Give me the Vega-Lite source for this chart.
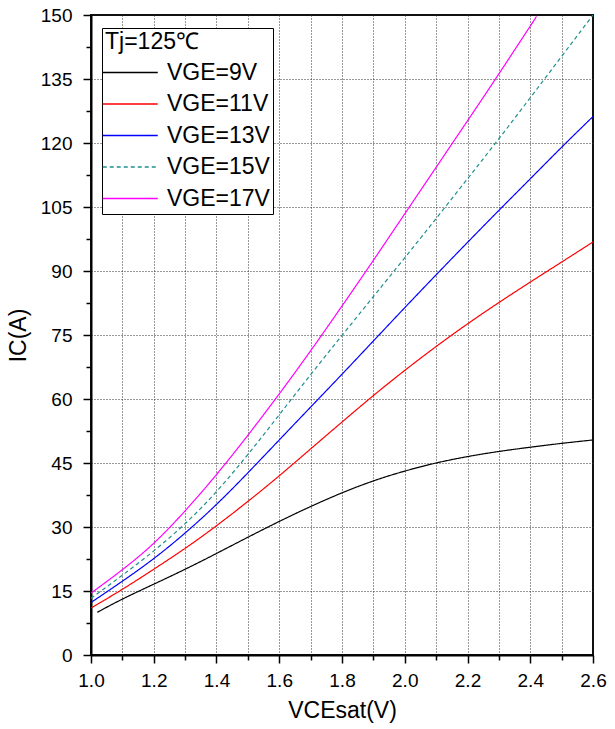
{
  "$schema": "https://vega.github.io/schema/vega-lite/v6.json",
  "width": 502,
  "height": 640,
  "autosize": {"type": "none"},
  "padding": {"left": 91, "top": 15, "right": 22, "bottom": 74},
  "background": "white",
  "config": {
    "font": "Liberation Sans",
    "view": {"stroke": "#111", "strokeWidth": 2},
    "legend": {
      "orient": "none",
      "legendX": 11,
      "legendY": 13,
      "strokeColor": "#000",
      "strokeWidth": 1,
      "fillColor": "white",
      "padding": 3,
      "titleFont": "Liberation Sans",
      "titleFontSize": 23,
      "titleFontWeight": "normal",
      "titleColor": "#000",
      "titlePadding": 7,
      "labelFont": "Liberation Sans",
      "labelFontSize": 23,
      "labelColor": "#000",
      "labelOffset": 39,
      "rowPadding": 7.5,
      "symbolType": "M-2.5,0H7.5",
      "symbolSize": 121,
      "symbolStrokeWidth": 1.3
    }
  },
  "data": {
    "values": [
      {"x": 1.02, "y": 10.0, "series": "VGE=9V"},
      {"x": 1.1, "y": 13.1, "series": "VGE=9V"},
      {"x": 1.2, "y": 16.6, "series": "VGE=9V"},
      {"x": 1.3, "y": 20.1, "series": "VGE=9V"},
      {"x": 1.4, "y": 23.8, "series": "VGE=9V"},
      {"x": 1.5, "y": 27.6, "series": "VGE=9V"},
      {"x": 1.6, "y": 31.3, "series": "VGE=9V"},
      {"x": 1.7, "y": 34.8, "series": "VGE=9V"},
      {"x": 1.8, "y": 38.0, "series": "VGE=9V"},
      {"x": 1.9, "y": 40.8, "series": "VGE=9V"},
      {"x": 2.0, "y": 43.1, "series": "VGE=9V"},
      {"x": 2.1, "y": 45.0, "series": "VGE=9V"},
      {"x": 2.2, "y": 46.5, "series": "VGE=9V"},
      {"x": 2.3, "y": 47.7, "series": "VGE=9V"},
      {"x": 2.4, "y": 48.7, "series": "VGE=9V"},
      {"x": 2.5, "y": 49.6, "series": "VGE=9V"},
      {"x": 2.6, "y": 50.4, "series": "VGE=9V"},

      {"x": 1.0, "y": 11.0, "series": "VGE=11V"},
      {"x": 1.1, "y": 15.4, "series": "VGE=11V"},
      {"x": 1.2, "y": 20.1, "series": "VGE=11V"},
      {"x": 1.3, "y": 25.0, "series": "VGE=11V"},
      {"x": 1.4, "y": 30.3, "series": "VGE=11V"},
      {"x": 1.5, "y": 36.0, "series": "VGE=11V"},
      {"x": 1.6, "y": 42.0, "series": "VGE=11V"},
      {"x": 1.7, "y": 48.3, "series": "VGE=11V"},
      {"x": 1.8, "y": 54.6, "series": "VGE=11V"},
      {"x": 1.9, "y": 60.8, "series": "VGE=11V"},
      {"x": 2.0, "y": 66.7, "series": "VGE=11V"},
      {"x": 2.1, "y": 72.3, "series": "VGE=11V"},
      {"x": 2.2, "y": 77.6, "series": "VGE=11V"},
      {"x": 2.3, "y": 82.6, "series": "VGE=11V"},
      {"x": 2.4, "y": 87.4, "series": "VGE=11V"},
      {"x": 2.5, "y": 92.1, "series": "VGE=11V"},
      {"x": 2.6, "y": 96.8, "series": "VGE=11V"},

      {"x": 1.0, "y": 12.3, "series": "VGE=13V"},
      {"x": 1.1, "y": 17.3, "series": "VGE=13V"},
      {"x": 1.2, "y": 22.6, "series": "VGE=13V"},
      {"x": 1.3, "y": 28.6, "series": "VGE=13V"},
      {"x": 1.4, "y": 35.3, "series": "VGE=13V"},
      {"x": 1.5, "y": 42.7, "series": "VGE=13V"},
      {"x": 1.6, "y": 50.4, "series": "VGE=13V"},
      {"x": 1.7, "y": 58.1, "series": "VGE=13V"},
      {"x": 1.8, "y": 65.8, "series": "VGE=13V"},
      {"x": 1.9, "y": 73.6, "series": "VGE=13V"},
      {"x": 2.0, "y": 81.4, "series": "VGE=13V"},
      {"x": 2.1, "y": 89.1, "series": "VGE=13V"},
      {"x": 2.2, "y": 96.7, "series": "VGE=13V"},
      {"x": 2.3, "y": 104.2, "series": "VGE=13V"},
      {"x": 2.4, "y": 111.6, "series": "VGE=13V"},
      {"x": 2.5, "y": 119.0, "series": "VGE=13V"},
      {"x": 2.6, "y": 126.2, "series": "VGE=13V"},

      {"x": 1.0, "y": 13.3, "series": "VGE=15V"},
      {"x": 1.1, "y": 18.7, "series": "VGE=15V"},
      {"x": 1.2, "y": 24.4, "series": "VGE=15V"},
      {"x": 1.3, "y": 30.8, "series": "VGE=15V"},
      {"x": 1.4, "y": 38.3, "series": "VGE=15V"},
      {"x": 1.5, "y": 47.0, "series": "VGE=15V"},
      {"x": 1.6, "y": 56.3, "series": "VGE=15V"},
      {"x": 1.7, "y": 65.7, "series": "VGE=15V"},
      {"x": 1.8, "y": 74.9, "series": "VGE=15V"},
      {"x": 1.9, "y": 84.0, "series": "VGE=15V"},
      {"x": 2.0, "y": 93.1, "series": "VGE=15V"},
      {"x": 2.1, "y": 102.3, "series": "VGE=15V"},
      {"x": 2.2, "y": 111.6, "series": "VGE=15V"},
      {"x": 2.3, "y": 121.0, "series": "VGE=15V"},
      {"x": 2.4, "y": 130.6, "series": "VGE=15V"},
      {"x": 2.5, "y": 140.3, "series": "VGE=15V"},
      {"x": 2.6, "y": 150.0, "series": "VGE=15V"},

      {"x": 1.0, "y": 14.5, "series": "VGE=17V"},
      {"x": 1.1, "y": 20.0, "series": "VGE=17V"},
      {"x": 1.2, "y": 26.2, "series": "VGE=17V"},
      {"x": 1.3, "y": 33.8, "series": "VGE=17V"},
      {"x": 1.4, "y": 42.3, "series": "VGE=17V"},
      {"x": 1.5, "y": 51.5, "series": "VGE=17V"},
      {"x": 1.6, "y": 61.2, "series": "VGE=17V"},
      {"x": 1.7, "y": 71.3, "series": "VGE=17V"},
      {"x": 1.8, "y": 81.8, "series": "VGE=17V"},
      {"x": 1.9, "y": 92.5, "series": "VGE=17V"},
      {"x": 2.0, "y": 103.4, "series": "VGE=17V"},
      {"x": 2.1, "y": 114.3, "series": "VGE=17V"},
      {"x": 2.2, "y": 125.2, "series": "VGE=17V"},
      {"x": 2.3, "y": 136.2, "series": "VGE=17V"},
      {"x": 2.4, "y": 147.4, "series": "VGE=17V"},
      {"x": 2.42, "y": 149.7, "series": "VGE=17V"}
    ]
  },
  "mark": {"type": "line", "strokeWidth": 1.2, "interpolate": "natural", "clip": true},
  "encoding": {
    "x": {
      "field": "x",
      "type": "quantitative",
      "scale": {"domain": [1.0, 2.6], "nice": false, "zero": false},
      "axis": {
        "title": "VCEsat(V)",
        "titleFontSize": 23,
        "titleFontWeight": "normal",
        "titleColor": "#000",
        "titlePadding": 9,
        "values": [1.0, 1.1, 1.2, 1.3, 1.4, 1.5, 1.6, 1.7, 1.8, 1.9, 2.0, 2.1, 2.2, 2.3, 2.4, 2.5, 2.6],
        "labelExpr": "round(datum.value*10) % 2 == 0 ? format(datum.value, '.1f') : ''",
        "labelFontSize": 19,
        "labelColor": "#000",
        "labelPadding": 8,
        "labelFlush": false,
        "labelOverlap": false,
        "domainColor": "#000",
        "domainWidth": 2,
        "tickColor": "#000",
        "tickWidth": 1.5,
        "tickSize": {"condition": {"test": "round(datum.value*10) % 2 == 0", "value": 8}, "value": 5},
        "grid": true,
        "gridColor": "#333",
        "gridDash": [1, 2],
        "gridWidth": 1,
        "gridOpacity": {"condition": {"test": "datum.value < 1.05 || datum.value > 2.55", "value": 0}, "value": 1}
      }
    },
    "y": {
      "field": "y",
      "type": "quantitative",
      "scale": {"domain": [0, 150], "nice": false},
      "axis": {
        "title": "IC(A)",
        "titleFontSize": 23,
        "titleFontWeight": "normal",
        "titleColor": "#000",
        "titlePadding": 10,
        "values": [0, 7.5, 15, 22.5, 30, 37.5, 45, 52.5, 60, 67.5, 75, 82.5, 90, 97.5, 105, 112.5, 120, 127.5, 135, 142.5, 150],
        "labelExpr": "datum.value % 15 == 0 ? format(datum.value, 'd') : ''",
        "labelFontSize": 19,
        "labelColor": "#000",
        "labelPadding": 11,
        "labelFlush": false,
        "labelOverlap": false,
        "domainColor": "#000",
        "domainWidth": 2,
        "tickColor": "#000",
        "tickWidth": 1.5,
        "tickSize": {"condition": {"test": "datum.value % 15 == 0", "value": 8}, "value": 5},
        "grid": true,
        "gridColor": "#333",
        "gridDash": [1, 2],
        "gridWidth": 1,
        "gridOpacity": {"condition": {"test": "datum.value % 15 == 0 && datum.value > 0 && datum.value < 150", "value": 1}, "value": 0}
      }
    },
    "color": {
      "field": "series",
      "type": "nominal",
      "title": "Tj=125℃",
      "scale": {
        "domain": ["VGE=9V", "VGE=11V", "VGE=13V", "VGE=15V", "VGE=17V"],
        "range": ["#000000", "#ff0000", "#0000ff", "#1f8f8f", "#ff00ff"]
      }
    },
    "strokeDash": {
      "field": "series",
      "type": "nominal",
      "title": "Tj=125℃",
      "scale": {
        "domain": ["VGE=9V", "VGE=11V", "VGE=13V", "VGE=15V", "VGE=17V"],
        "range": [[1, 0], [1, 0], [1, 0], [4, 3], [1, 0]]
      }
    }
  }
}
